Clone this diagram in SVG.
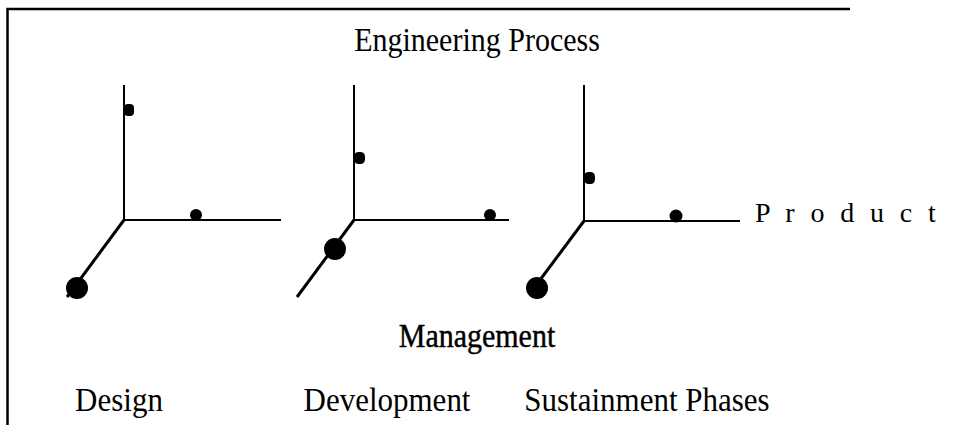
<svg xmlns="http://www.w3.org/2000/svg" width="958" height="425" viewBox="0 0 958 425">
<style>
.t{font-family:"Liberation Serif","Times New Roman",serif;font-size:30px;fill:#000}
.ax{stroke:#000;stroke-width:2;fill:none;stroke-linecap:square}
.dg{stroke:#000;stroke-width:3;fill:none}
.d{fill:#000}
.frame{stroke:#000;stroke-width:2.5;fill:none}
</style>
<rect width="958" height="425" fill="#fff"/>
<g id="frame">
<path class="frame" d="M7.5,425 V9 H850"/>
</g>
<g id="title"><text class="t" transform="translate(477,51) scale(1,1.12)" text-anchor="middle">Engineering Process</text></g>
<g id="connectors">
<path class="ax" d="M124,86 V220 H280"/>
<path class="dg" d="M124,220 L67,297"/>
<path class="ax" d="M354,86 V220 H508"/>
<path class="dg" d="M354,220 L297,297"/>
<path class="ax" d="M584,86 V221 H739"/>
<path class="dg" d="M584,221 L531,292"/>
</g>
<g id="design-axes">
<rect class="d" x="124" y="104" width="10" height="12" rx="4"/>
<circle class="d" cx="196" cy="215" r="6"/>
<circle class="d" cx="77" cy="288" r="11"/>
</g>
<g id="development-axes">
<rect class="d" x="354" y="152" width="11" height="12" rx="4.5"/>
<circle class="d" cx="490" cy="215" r="6"/>
<circle class="d" cx="335" cy="249" r="11"/>
</g>
<g id="sustainment-axes">
<rect class="d" x="584" y="172" width="11" height="12" rx="4.5"/>
<circle class="d" cx="676" cy="216" r="6.5"/>
<circle class="d" cx="537" cy="288" r="11"/>
</g>
<g id="product"><text class="t" x="755" y="222" style="font-size:28px" letter-spacing="4.4">P r o d u c t</text></g>
<g id="management"><text class="t" transform="translate(477,347) scale(1,1.1)" text-anchor="middle" stroke="#000" stroke-width="0.4">Management</text></g>
<g id="phases">
<text class="t" transform="translate(119,411) scale(1,1.1)" text-anchor="middle" style="font-size:31px">Design</text>
<text class="t" transform="translate(387,411) scale(1,1.1)" text-anchor="middle" style="font-size:31px">Development</text>
<text class="t" transform="translate(647,411) scale(1,1.1)" text-anchor="middle" style="font-size:31px">Sustainment Phases</text>
</g>
</svg>
